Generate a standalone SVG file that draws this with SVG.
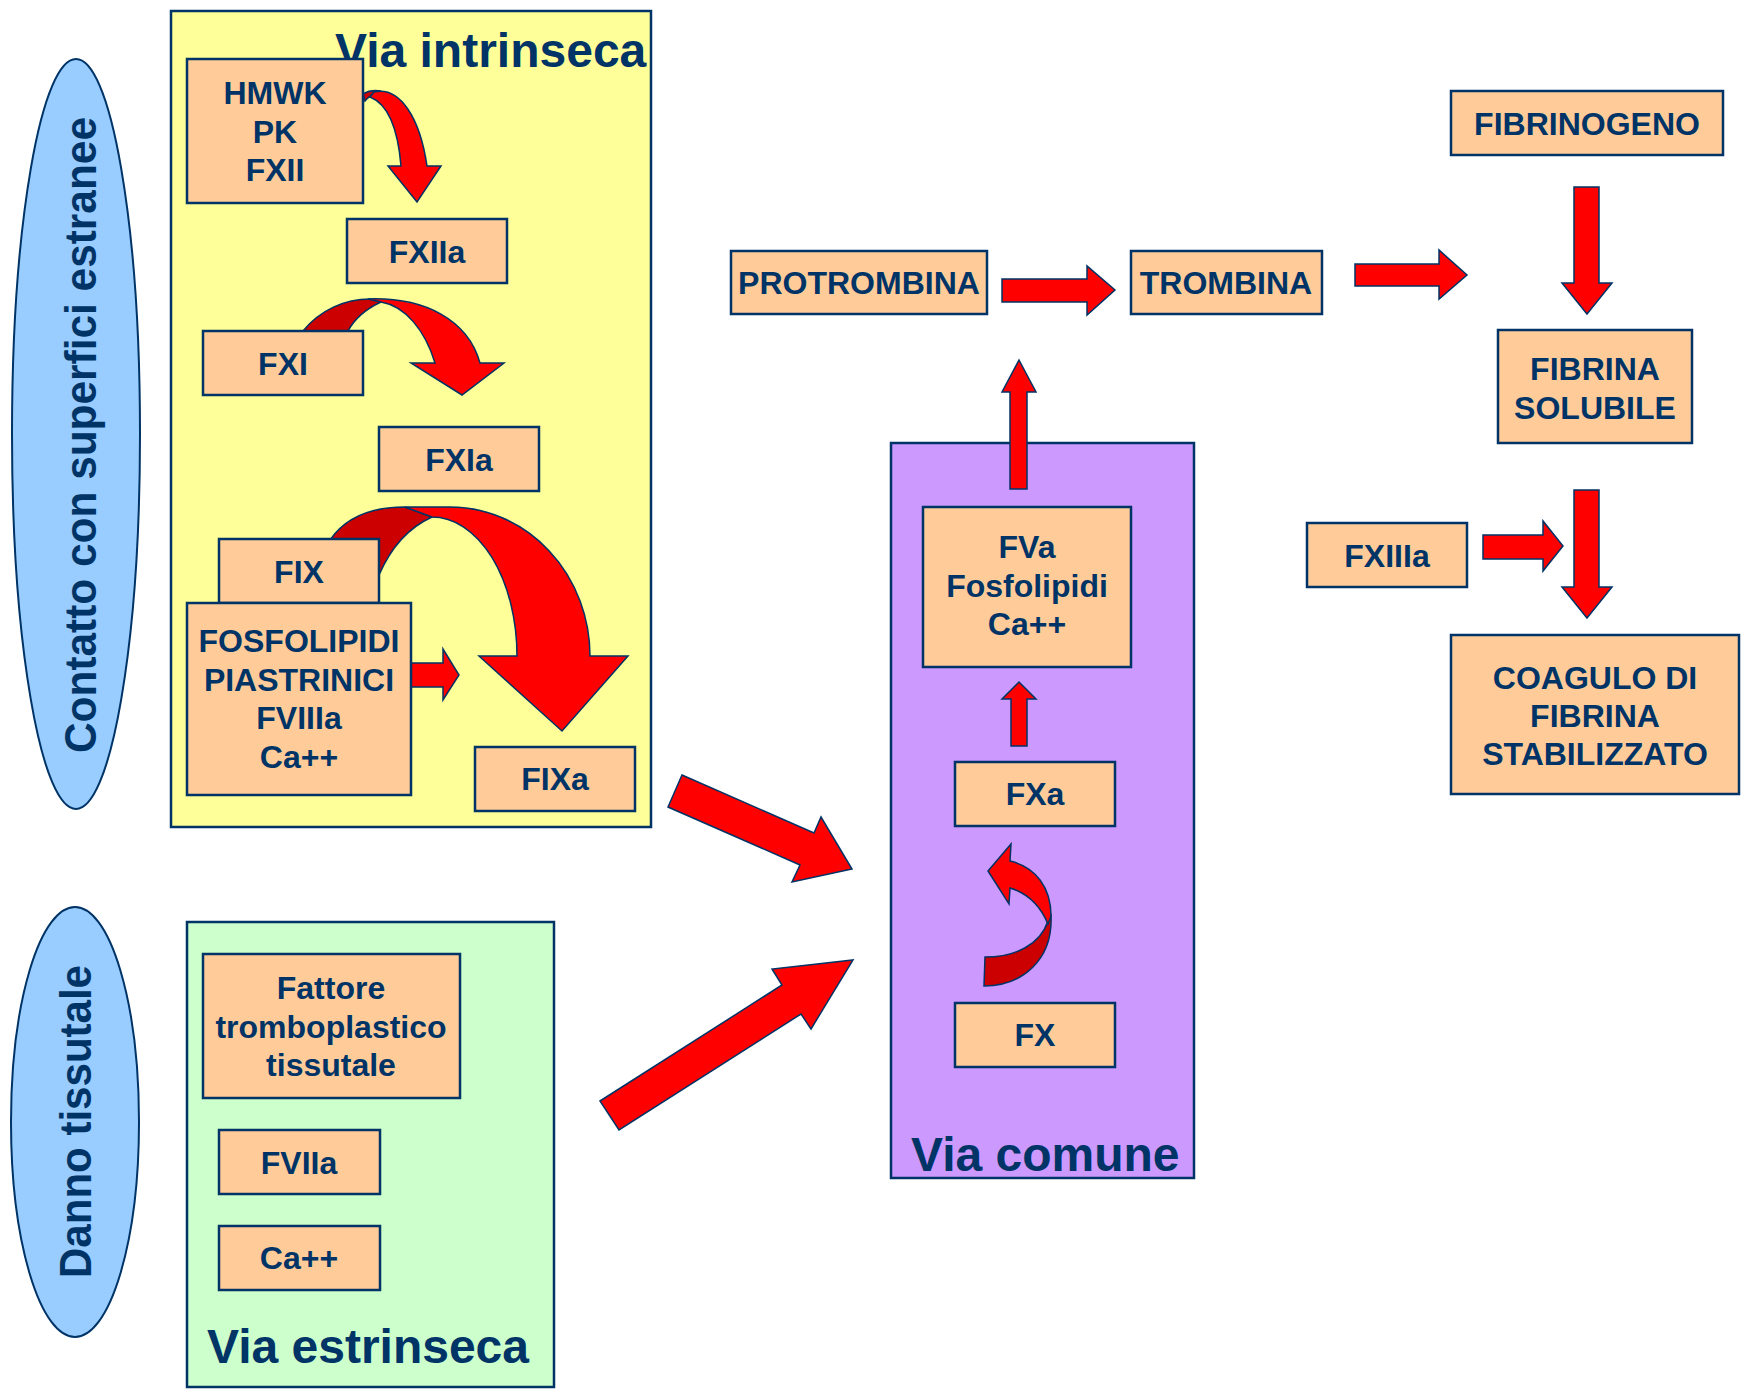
<svg xmlns="http://www.w3.org/2000/svg" width="1742" height="1390" viewBox="0 0 1742 1390">
<style>
text{font-family:"Liberation Sans",Arial,sans-serif;font-weight:bold;fill:#003366}
.t{font-size:32px;text-anchor:middle}
.big{font-size:48px}
.ell{font-size:44px}
.box{fill:#FFCC99;stroke:#003366;stroke-width:2.5}
.area{stroke:#003366;stroke-width:2.5}
.arr{fill:#FF0000;stroke:#003366;stroke-width:1.5;stroke-linejoin:miter}
.dark{fill:#CC0000;stroke:#003366;stroke-width:1.5}
.oval{fill:#99CCFF;stroke:#003366;stroke-width:2}
</style>
<rect width="1742" height="1390" fill="#FFFFFF"/>

<g id="oval-contatto">
<ellipse class="oval" cx="76" cy="434" rx="64" ry="375"/>
<text class="ell" transform="translate(96,753) rotate(-90)" textLength="636" lengthAdjust="spacingAndGlyphs">Contatto con superfici estranee</text>
</g>
<g id="oval-danno">
<ellipse class="oval" cx="75" cy="1122" rx="64" ry="215"/>
<text class="ell" transform="translate(91,1278) rotate(-90)" textLength="313" lengthAdjust="spacingAndGlyphs">Danno tissutale</text>
</g>

<g id="via-intrinseca">
<rect class="area" x="171" y="11" width="480" height="816" fill="#FFFF99"/>
</g>
<g id="via-estrinseca">
<rect class="area" x="187" y="922" width="367" height="465" fill="#CCFFCC"/>
<text class="big" x="207" y="1363">Via estrinseca</text>
</g>
<g id="via-comune">
<rect class="area" x="891" y="443" width="303" height="735" fill="#CC99FF"/>
<text class="big" x="911" y="1171">Via comune</text>
</g>

<g id="connectors">
<!-- HMWK -> FXIIa -->
<path class="dark" d="M363,94 C368,91 374,90 381,91 C375,93 369,96 365,101 Z"/>
<path class="arr" d="M374,92 C400,86 420,118 427,166 L441,166 L417,202 L388,166 L401,166 C398,130 388,104 370,97 Z"/>
<!-- FXI -> FXIa -->
<path class="dark" d="M303,331 C320,310 345,299 370,299 L381,302 C368,308 355,318 348,331 Z"/>
<path class="arr" d="M368,299 C425,297 468,320 480,363 L504,363 L462,395 L411,363 L435,363 C425,330 405,306 381,302 Z"/>
<!-- FIX -> FIXa -->
<path class="dark" d="M330,540 C345,518 370,507 405,507 L432,517 C410,527 392,545 379,575 L330,575 Z"/>
<path class="arr" d="M405,507 L450,507 A140,149 0 0 1 590,656 L628,656 L562,731 L479,656 L517,656 A85,139 0 0 0 432,517 Z"/>
<!-- FOSFOLIPIDI -> -->
<path class="arr" d="M411,663 L443,663 L443,649 L459,675 L443,700 L443,687 L411,687 Z"/>
<!-- FIXa -> via comune -->
<path class="arr" d="M682,775 L814,833 L821,817 L852,869 L792,882 L800,865 L668,807 Z"/>
<!-- via estrinseca -> via comune -->
<path class="arr" d="M600,1101 L782,985 L772,969 L853,960 L811,1029 L801,1014 L619,1130 Z"/>
<!-- FX -> FXa -->
<path class="dark" d="M1048,921 L1051,916 C1053,960 1022,986 984,986 L985,957 C1015,957 1040,945 1048,921 Z"/>
<path class="arr" d="M988,871 L1011,844 L1010,861 C1036,867 1051,888 1051,916 L1048,924 C1040,905 1027,893 1010,888 L1009,904 Z"/>
<!-- FXa -> FVa -->
<path class="arr" d="M1011,746 L1011,699 L1002,699 L1019,682 L1036,699 L1027,699 L1027,746 Z"/>
<!-- via comune -> protrombina/trombina -->
<path class="arr" d="M1010,489 L1010,392 L1002,392 L1019,360 L1036,392 L1027,392 L1027,489 Z"/>
<!-- PROTROMBINA -> TROMBINA -->
<path class="arr" d="M1002,279 L1087,279 L1087,266 L1115,290 L1087,315 L1087,302 L1002,302 Z"/>
<!-- TROMBINA -> -->
<path class="arr" d="M1355,264 L1439,264 L1439,250 L1467,275 L1439,299 L1439,286 L1355,286 Z"/>
<!-- FIBRINOGENO -> FIBRINA SOLUBILE -->
<path class="arr" d="M1574,187 L1599,187 L1599,283 L1612,283 L1587,314 L1562,283 L1574,283 Z"/>
<!-- FIBRINA SOLUBILE -> COAGULO -->
<path class="arr" d="M1574,490 L1599,490 L1599,587 L1612,587 L1587,618 L1562,587 L1574,587 Z"/>
<!-- FXIIIa -> -->
<path class="arr" d="M1483,535 L1543,535 L1543,521 L1563,546 L1543,571 L1543,559 L1483,559 Z"/>
</g>

<g id="title-intrinseca"><text class="big" x="335" y="67">Via intrinseca</text></g>

<g id="hmwk">
<rect class="box" x="187" y="59" width="176" height="144"/>
<text class="t" x="275" y="104">HMWK</text>
<text class="t" x="275" y="143">PK</text>
<text class="t" x="275" y="181">FXII</text>
</g>
<g id="fxiia"><rect class="box" x="347" y="219" width="160" height="64"/><text class="t" x="427" y="263">FXIIa</text></g>
<g id="fxi"><rect class="box" x="203" y="331" width="160" height="64"/><text class="t" x="283" y="375">FXI</text></g>
<g id="fxia"><rect class="box" x="379" y="427" width="160" height="64"/><text class="t" x="459" y="471">FXIa</text></g>
<g id="fix"><rect class="box" x="219" y="539" width="160" height="64"/><text class="t" x="299" y="583">FIX</text></g>
<g id="fosfolipidi">
<rect class="box" x="187" y="603" width="224" height="192"/>
<text class="t" x="299" y="652">FOSFOLIPIDI</text>
<text class="t" x="299" y="691">PIASTRINICI</text>
<text class="t" x="299" y="729">FVIIIa</text>
<text class="t" x="299" y="768">Ca++</text>
</g>
<g id="fixa"><rect class="box" x="475" y="747" width="160" height="64"/><text class="t" x="555" y="790">FIXa</text></g>

<g id="fattore">
<rect class="box" x="203" y="954" width="257" height="144"/>
<text class="t" x="331" y="999">Fattore</text>
<text class="t" x="331" y="1038">tromboplastico</text>
<text class="t" x="331" y="1076">tissutale</text>
</g>
<g id="fviia"><rect class="box" x="219" y="1130" width="161" height="64"/><text class="t" x="299" y="1174">FVIIa</text></g>
<g id="ca-estr"><rect class="box" x="219" y="1226" width="161" height="64"/><text class="t" x="299" y="1269">Ca++</text></g>

<g id="fva">
<rect class="box" x="923" y="507" width="208" height="160"/>
<text class="t" x="1027" y="558">FVa</text>
<text class="t" x="1027" y="597">Fosfolipidi</text>
<text class="t" x="1027" y="635">Ca++</text>
</g>
<g id="fxa"><rect class="box" x="955" y="762" width="160" height="64"/><text class="t" x="1035" y="805">FXa</text></g>
<g id="fx"><rect class="box" x="955" y="1003" width="160" height="64"/><text class="t" x="1035" y="1046">FX</text></g>

<g id="protrombina"><rect class="box" x="731" y="251" width="256" height="63"/><text class="t" x="859" y="294">PROTROMBINA</text></g>
<g id="trombina"><rect class="box" x="1131" y="251" width="191" height="63"/><text class="t" x="1226" y="294">TROMBINA</text></g>
<g id="fibrinogeno"><rect class="box" x="1451" y="91" width="272" height="64"/><text class="t" x="1587" y="135">FIBRINOGENO</text></g>
<g id="fibrina-solubile">
<rect class="box" x="1498" y="330" width="194" height="113"/>
<text class="t" x="1595" y="380">FIBRINA</text>
<text class="t" x="1595" y="419">SOLUBILE</text>
</g>
<g id="fxiiia"><rect class="box" x="1307" y="523" width="160" height="64"/><text class="t" x="1387" y="567">FXIIIa</text></g>
<g id="coagulo">
<rect class="box" x="1451" y="635" width="288" height="159"/>
<text class="t" x="1595" y="689">COAGULO DI</text>
<text class="t" x="1595" y="727">FIBRINA</text>
<text class="t" x="1595" y="765">STABILIZZATO</text>
</g>
</svg>
